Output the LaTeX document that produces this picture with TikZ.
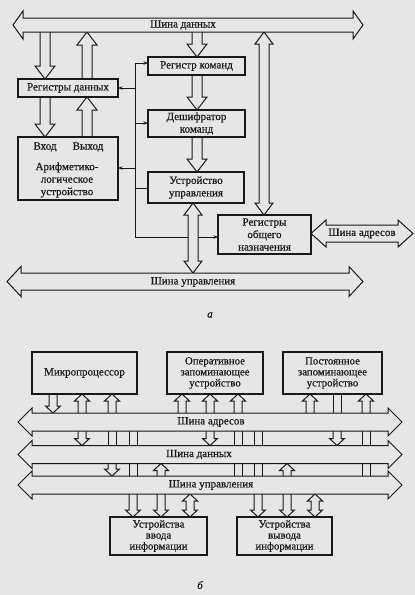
\documentclass[tikz,border=0pt]{standalone}
\usepackage{fontspec}
\setmainfont{Liberation Serif}[FakeBold=0.6]
\usetikzlibrary{arrows.meta}
\definecolor{bg}{RGB}{230,230,230}
\definecolor{ink}{RGB}{25,25,25}
\newcommand\fs{\fontsize{11}{12.5}\selectfont}
\newcommand\fsb{\fontsize{10.8}{11}\selectfont}
\def\aSW{5}\def\aHW{10}\def\aHL{13}
\newcommand\arrD[3]{\path[arr] (#1-\aSW,#2) -- (#1-\aSW,#3-\aHL) -- (#1-\aHW,#3-\aHL) -- (#1,#3) -- (#1+\aHW,#3-\aHL) -- (#1+\aSW,#3-\aHL) -- (#1+\aSW,#2);}
\newcommand\arrU[3]{\path[arr] (#1-\aSW,#3) -- (#1-\aSW,#2+\aHL) -- (#1-\aHW,#2+\aHL) -- (#1,#2) -- (#1+\aHW,#2+\aHL) -- (#1+\aSW,#2+\aHL) -- (#1+\aSW,#3);}
\newcommand\arrUD[3]{\path[arr] (#1,#2) -- (#1+\aHW,#2+\aHL) -- (#1+\aSW,#2+\aHL) -- (#1+\aSW,#3-\aHL) -- (#1+\aHW,#3-\aHL) -- (#1,#3) -- (#1-\aHW,#3-\aHL) -- (#1-\aSW,#3-\aHL) -- (#1-\aSW,#2+\aHL) -- (#1-\aHW,#2+\aHL) -- cycle;}
\newcommand\pipeV[3]{\draw[thinline] (#1-\aSW,#2) -- (#1-\aSW,#3) (#1+\aSW,#2) -- (#1+\aSW,#3);}
\newcommand\hbus[6]{\path[arr] (#1,#3) -- (#1+#6,#3-#5) -- (#1+#6,#3-#4) -- (#2-#6,#3-#4) -- (#2-#6,#3-#5) -- (#2,#3) -- (#2-#6,#3+#5) -- (#2-#6,#3+#4) -- (#1+#6,#3+#4) -- (#1+#6,#3+#5) -- cycle;}
\begin{document}
\begin{tikzpicture}[x=1pt,y=-1pt,
 box/.style={draw=ink, line width=1.1pt, fill=bg, inner sep=1pt, align=center, font=\fs, text=ink},
 boxb/.style={box, font=\fsb},
 arr/.style={draw=ink, line width=1pt, fill=bg, line join=miter},
 thinline/.style={draw=ink, line width=1pt},
 tip/.style={-{Stealth[length=4.5pt,width=3.5pt]}},
 lbl/.style={font=\fs, inner sep=0pt, align=center, text=ink}]
\fill[bg] (0,0) rectangle (415,595);
% ---------- part a ----------
\draw[thinline] (135,63) -- (135,237);
\draw[thinline,tip] (135,63) -- (148,63);
\draw[thinline,tip] (135,88) -- (118,88);
\draw[thinline,tip] (135,123) -- (148,123);
\draw[thinline,tip] (135,168) -- (118,168);
\draw[thinline] (135,188) -- (148,188);
\draw[thinline,tip] (135,237) -- (218,237);
\arrD{45}{32}{79}
\arrU{87}{32}{79}
\arrD{45}{97}{137}
\arrU{87}{97}{137}
\arrD{197}{32}{57}
\arrD{197}{75}{110}
\arrD{197}{137}{172}
\def\aHW{9}\def\aHL{12}
\arrUD{193}{203}{273}
\arrUD{264}{32}{215}
\node[box, minimum width=100pt, minimum height=18pt] (rd) at (68,88) {Регистры данных};
\node[box, minimum width=100pt, minimum height=63pt] (alu) at (68,168.5) {};
\node[lbl] (vh) at (45,147) {Вход};
\node[lbl] (vyh) at (88,147) {Выход};
\node[lbl] (alut) at (67,180) {Арифметико-\\логическое\\устройство};
\node[box, minimum width=97pt, minimum height=18pt] (rk) at (196.5,66) {Регистр команд};
\node[box, minimum width=97pt, minimum height=27pt] (dc) at (196.5,123.5) {Дешифратор\\команд};
\node[box, minimum width=96pt, minimum height=31pt] (uu) at (196,187.5) {Устройство\\управления};
\node[box, minimum width=93pt, minimum height=39pt] (ron) at (264.5,234.5) {Регистры\\общего\\назначения};
\hbus{13}{363}{25}{7}{14}{10}
\node[lbl] (bd) at (183,25) {Шина данных};
\hbus{7}{363}{281.5}{8.5}{15}{14}
\node[lbl] (bu) at (193,282) {Шина управления};
\hbus{311}{413}{233.5}{8.5}{13.5}{15}
\node[lbl] (ba) at (362,233.5) {Шина адресов};
\node[lbl, font=\fs\itshape] (la) at (210,315) {а};
% ---------- part b ----------
\def\aSW{4}\def\aHW{7.5}\def\aHL{7}
\arrD{53}{394}{413}
\arrU{82}{394}{413}
\arrD{82}{431}{445.5}
\arrU{112}{394}{413}
\pipeV{112}{431}{445.5}
\arrD{112}{463.5}{476}
\pipeV{133}{431}{445.5}
\pipeV{133}{463.5}{476}
\arrD{133}{494}{517}
\arrU{161}{463.5}{476}
\arrD{161}{494}{517}
\arrUD{190}{494}{517}
\arrU{182}{394}{413}
\arrU{210}{394}{413}
\arrD{210}{431}{445.5}
\arrU{238}{394}{413}
\pipeV{238}{431}{445.5}
\pipeV{238}{463.5}{476}
\pipeV{258}{431}{445.5}
\pipeV{258}{463.5}{476}
\arrD{258}{494}{517}
\arrU{287}{463.5}{476}
\arrD{287}{494}{517}
\arrUD{315}{494}{517}
\arrU{310}{394}{413}
\pipeV{337}{394}{413}
\arrD{337}{431}{445.5}
\arrU{366}{394}{413}
\pipeV{366}{431}{445.5}
\pipeV{366}{463.5}{476}
\node[box, minimum width=105pt, minimum height=42pt] (mp) at (84.5,373) {Микропроцессор};
\node[boxb, minimum width=96pt, minimum height=42pt] (ozu) at (215,373) {Оперативное\\запоминающее\\устройство};
\node[boxb, minimum width=99pt, minimum height=42pt] (pzu) at (332.5,373) {Постоянное\\запоминающее\\устройство};
\node[boxb, minimum width=97pt, minimum height=38pt] (inp) at (158.5,536) {Устройства\\ввода\\информации};
\node[boxb, minimum width=95pt, minimum height=38pt] (outp) at (284.5,536) {Устройства\\вывода\\информации};
\hbus{18}{402}{422}{9}{14}{14}
\node[lbl] (b1) at (211,422) {Шина адресов};
\hbus{18}{402}{454.5}{9}{14}{14}
\node[lbl] (b2) at (199,454.5) {Шина данных};
\hbus{18}{402}{485}{9}{14}{14}
\node[lbl] (b3) at (211,485) {Шина управления};
\node[lbl, font=\fs\itshape] (lb) at (200,585) {б};
\end{tikzpicture}
\end{document}
